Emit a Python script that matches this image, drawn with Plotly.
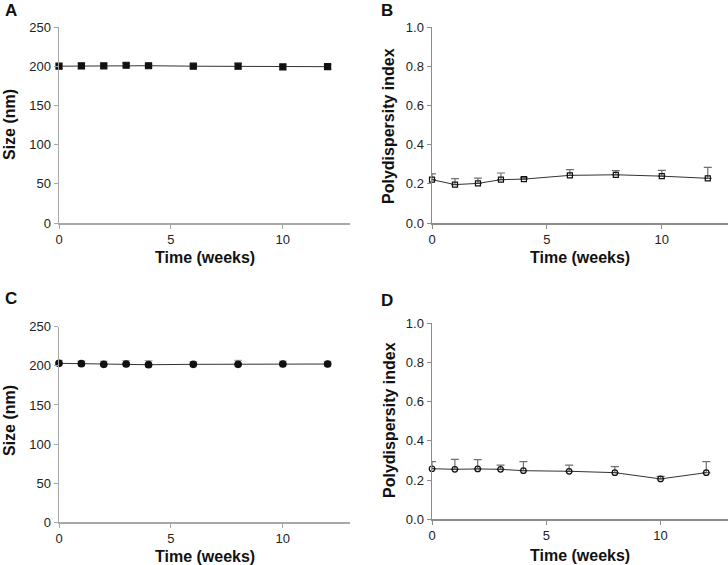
import plotly.graph_objects as go

weeks = [0, 1, 2, 3, 4, 6, 8, 10, 12]

size_a = [200.0, 200.3, 200.5, 201.2, 200.6, 200.0, 200.0, 199.1, 199.4]
size_a_err = [3.0, 3.5, 2.5, 2.5, 2.0, 2.5, 3.5, 3.0, 2.5]

pdi_b = [0.221, 0.196, 0.202, 0.221, 0.224, 0.243, 0.246, 0.239, 0.228]
pdi_b_err = [0.030, 0.030, 0.027, 0.034, 0.009, 0.029, 0.021, 0.029, 0.056]

size_c = [203.2, 202.7, 201.9, 202.3, 201.4, 201.9, 201.9, 202.3, 202.3]
size_c_err = [3.8, 3.3, 4.1, 4.3, 5.2, 3.1, 5.1, 3.7, 3.4]

pdi_d = [0.258, 0.255, 0.257, 0.255, 0.248, 0.245, 0.238, 0.206, 0.238]
pdi_d_err = [0.036, 0.051, 0.047, 0.021, 0.046, 0.031, 0.031, 0.013, 0.056]

panel_labels = ["A", "B", "C", "D"]
x_title = "Time (weeks)"
y_titles = ["Size (nm)", "Polydispersity index", "Size (nm)", "Polydispersity index"]

W, H = 728, 565

def px(x):
    return x / W

def py(y):
    return 1 - y / H

fig = go.Figure()

panels = [
    dict(data=size_a, err=size_a_err, sym="square", msize=6, x=(59, 350), y=(223, 27),
         xr=[0, 13], yr=[0, 250], dt=50, sym_err=True, ac="#a8a8a8", ew="#b0b0b0"),
    dict(data=pdi_b, err=pdi_b_err, sym="square-open", msize=5, x=(432, 728), y=(223, 27),
         xr=[0, 12.88], yr=[0, 1.0], dt=0.2, sym_err=False, ac="#8c8c8c", ew="#707070"),
    dict(data=size_c, err=size_c_err, sym="circle", msize=6.5, x=(59, 350), y=(522.3, 326.7),
         xr=[0, 13], yr=[0, 250], dt=50, sym_err=False, ac="#a8a8a8", ew="#b0b0b0"),
    dict(data=pdi_d, err=pdi_d_err, sym="circle-open", msize=5.5, x=(432, 728), y=(519.3, 323.3),
         xr=[0, 12.95], yr=[0, 1.0], dt=0.2, sym_err=False, ac="#8c8c8c", ew="#707070"),
]

tick_font = dict(family="Liberation Sans, Arial, sans-serif", size=13, color="#222222")
title_font = dict(family="Liberation Sans, Arial, sans-serif", size=16, color="#111111")

for i, p in enumerate(panels):
    n = i + 1
    xa = "x" if n == 1 else f"x{n}"
    ya = "y" if n == 1 else f"y{n}"
    fig.add_trace(go.Scatter(
        x=weeks, y=p["data"], xaxis=xa, yaxis=ya, mode="lines+markers",
        line=dict(color="#333333", width=1),
        marker=dict(symbol=p["sym"], size=p["msize"], color="#111111",
                    line=dict(color="#111111", width=1.2)),
        error_y=dict(type="data", array=p["err"],
                     arrayminus=p["err"] if p["sym_err"] else [0] * len(p["err"]),
                     symmetric=False, color=p["ew"], thickness=1.2, width=4),
        showlegend=False, cliponaxis=False,
    ))
    common = dict(showline=True, linecolor=p["ac"], linewidth=1.5, ticks="outside",
                  ticklen=4, tickcolor=p["ac"], tickwidth=1, showgrid=False,
                  zeroline=False, tickfont=tick_font, fixedrange=True, automargin=False)
    fig.layout[f"xaxis{'' if n == 1 else n}"] = dict(
        domain=[px(p["x"][0]), px(p["x"][1])], range=p["xr"], anchor=ya,
        tickvals=[0, 5, 10], **common)
    fig.layout[f"yaxis{'' if n == 1 else n}"] = dict(
        domain=[py(p["y"][0]), py(p["y"][1])], range=p["yr"], anchor=xa,
        dtick=p["dt"], tickformat=".1f" if p["dt"] < 1 else "d", **common)

annotations = []
label_pos = [(3, 10), (379, 10), (3, 298), (379, 300)]
for lab, (x, y) in zip(panel_labels, label_pos):
    annotations.append(dict(text=f"<b>{lab}</b>", x=px(x), y=py(y), xref="paper", yref="paper",
                            xanchor="left", yanchor="middle", showarrow=False,
                            font=dict(family="Liberation Sans, Arial, sans-serif", size=17, color="#111111")))
xt_pos = [(205, 257), (580, 257), (205, 556), (580, 555)]
for (x, y) in xt_pos:
    annotations.append(dict(text=f"<b>{x_title}</b>", x=px(x), y=py(y), xref="paper", yref="paper",
                            xanchor="center", yanchor="middle", showarrow=False, font=title_font))
yt_pos = [(9, 125), (389, 126), (9, 421), (389, 420)]
for t, (x, y) in zip(y_titles, yt_pos):
    annotations.append(dict(text=f"<b>{t}</b>", x=px(x), y=py(y), xref="paper", yref="paper",
                            xanchor="center", yanchor="middle", showarrow=False,
                            textangle=-90, font=title_font))

fig.update_layout(width=W, height=H, margin=dict(l=0, r=0, t=0, b=0, autoexpand=False),
                  template="none", hovermode=False,
                  paper_bgcolor="white", plot_bgcolor="white", annotations=annotations)

fig.write_html("out.html", config={"displayModeBar": False, "staticPlot": True},
               post_script="document.body.style.margin='0';")
